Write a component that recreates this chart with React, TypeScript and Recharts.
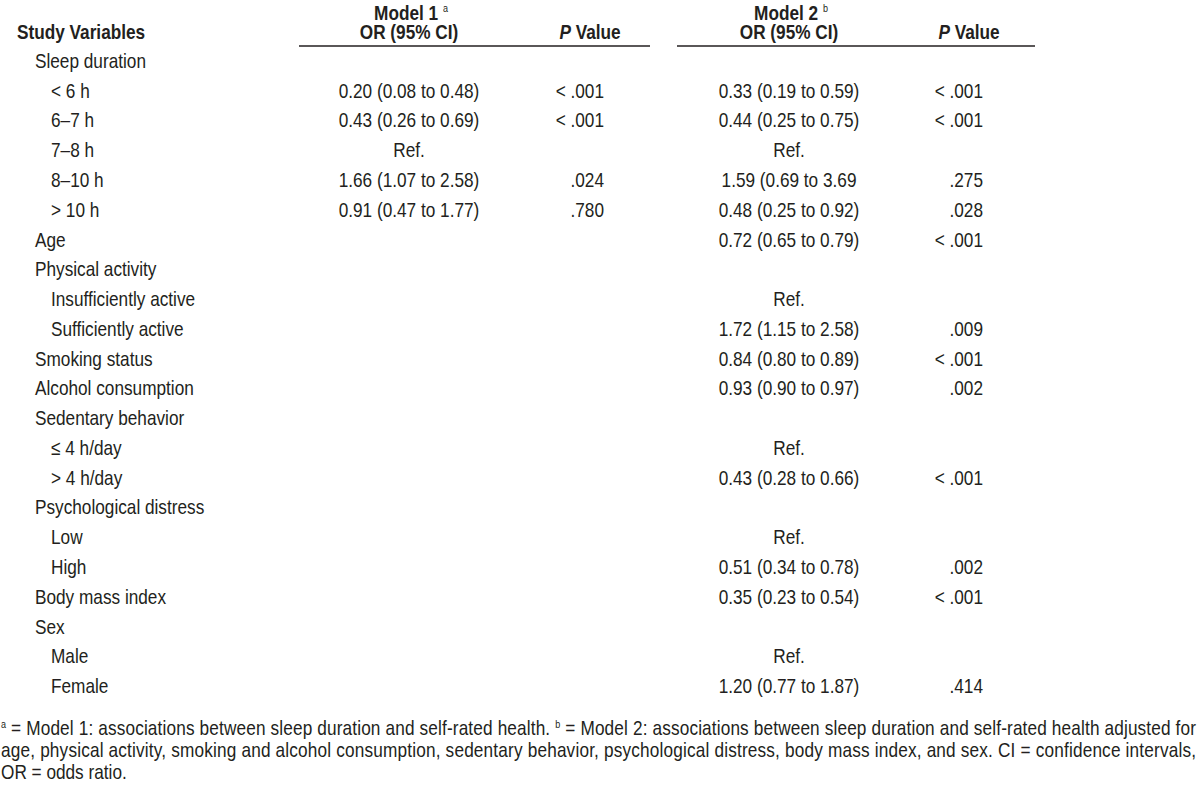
import { Scatter, ScatterChart, XAxis, YAxis } from "recharts";

const rowLabels = [
  "Sleep duration",
  "< 6 h",
  "6–7 h",
  "7–8 h",
  "8–10 h",
  "> 10 h",
  "Age",
  "Physical activity",
  "Insufficiently active",
  "Sufficiently active",
  "Smoking status",
  "Alcohol consumption",
  "Sedentary behavior",
  "≤ 4 h/day",
  "> 4 h/day",
  "Psychological distress",
  "Low",
  "High",
  "Body mass index",
  "Sex",
  "Male",
  "Female"
];

const rowLevels = [0, 1, 1, 1, 1, 1, 0, 0, 1, 1, 0, 0, 0, 1, 1, 0, 1, 1, 0, 0, 1, 1];

const model1OR = [
  "",
  "0.20 (0.08 to 0.48)",
  "0.43 (0.26 to 0.69)",
  "Ref.",
  "1.66 (1.07 to 2.58)",
  "0.91 (0.47 to 1.77)",
  "", "", "", "", "", "", "", "", "", "", "", "", "", "", "", ""
];

const model1P = ["", "< .001", "< .001", "", ".024", ".780", "", "", "", "", "", "", "", "", "", "", "", "", "", "", "", ""];

const model2OR = [
  "",
  "0.33 (0.19 to 0.59)",
  "0.44 (0.25 to 0.75)",
  "Ref.",
  "1.59 (0.69 to 3.69",
  "0.48 (0.25 to 0.92)",
  "0.72 (0.65 to 0.79)",
  "",
  "Ref.",
  "1.72 (1.15 to 2.58)",
  "0.84 (0.80 to 0.89)",
  "0.93 (0.90 to 0.97)",
  "",
  "Ref.",
  "0.43 (0.28 to 0.66)",
  "",
  "Ref.",
  "0.51 (0.34 to 0.78)",
  "0.35 (0.23 to 0.54)",
  "",
  "Ref.",
  "1.20 (0.77 to 1.87)"
];

const model2P = [
  "", "< .001", "< .001", "", ".275", ".028", "< .001", "", "", ".009", "< .001",
  ".002", "", "", "< .001", "", "", ".002", "< .001", "", "", ".414"
];

// no narrow font installed, so squeeze Liberation Sans to look like Arial Narrow
const FONT = "'Liberation Sans Narrow', 'Arial Narrow', 'Liberation Sans', Arial, sans-serif";
const INK = "#231f20";
const SIZE = 21;
const SX = 0.82;

type Cell = { x: number; row: number; text: string };

function column(values: string[], x: number): Cell[] {
  return values.map((text, row) => ({ x, row, text })).filter((c) => c.text !== "");
}

function NText({ x, y, anchor = "start", bold = false, children, ...rest }: any) {
  return (
    <text
      transform={`translate(${x},${y}) scale(${SX},1)`}
      textAnchor={anchor}
      fontSize={SIZE}
      fontWeight={bold ? "bold" : "normal"}
      fill={INK}
      fontFamily={FONT}
      {...rest}
    >
      {children}
    </text>
  );
}

function textShape(anchor: "start" | "middle" | "end") {
  return (props: any) => (
    <NText x={props.cx} y={props.cy} anchor={anchor}>
      {props.payload.text}
    </NText>
  );
}

export default function App() {
  const labels = rowLabels.map((text, row) => ({ x: rowLevels[row] ? 51 : 35, row, text }));

  return (
    <div style={{ width: 1200, height: 788 }}>
      <style>{"body{margin:0}"}</style>
      <ScatterChart
        width={1200}
        height={788}
        margin={{ top: 53, right: 0, bottom: 80, left: 0 }}
        style={{ fontFamily: FONT, background: "#fff" }}
      >
        <XAxis type="number" dataKey="x" domain={[0, 1200]} hide />
        <YAxis type="number" dataKey="row" domain={[-0.5, 21.5]} reversed hide />

        <Scatter data={labels} shape={textShape("start")} isAnimationActive={false} />
        <Scatter data={column(model1OR, 409)} shape={textShape("middle")} isAnimationActive={false} />
        <Scatter data={column(model1P, 604)} shape={textShape("end")} isAnimationActive={false} />
        <Scatter data={column(model2OR, 789)} shape={textShape("middle")} isAnimationActive={false} />
        <Scatter data={column(model2P, 983)} shape={textShape("end")} isAnimationActive={false} />

        {/* header */}
        <NText x={17} y={39} bold>Study Variables</NText>
        <NText x={411} y={20} anchor="middle" bold>
          Model 1{" "}
          <tspan fontSize={11} fontWeight="normal" baselineShift="70%">a</tspan>
        </NText>
        <NText x={409} y={39} anchor="middle" bold>OR (95% CI)</NText>
        <NText x={590} y={39} anchor="middle" bold>
          <tspan fontStyle="italic">P</tspan> Value
        </NText>
        <NText x={791} y={20} anchor="middle" bold>
          Model 2{" "}
          <tspan fontSize={11} fontWeight="normal" baselineShift="70%">b</tspan>
        </NText>
        <NText x={789} y={39} anchor="middle" bold>OR (95% CI)</NText>
        <NText x={969} y={39} anchor="middle" bold>
          <tspan fontStyle="italic">P</tspan> Value
        </NText>
        <line x1={299} x2={650} y1={46} y2={46} stroke={INK} strokeWidth={1.5} />
        <line x1={677} x2={1035} y1={46} y2={46} stroke={INK} strokeWidth={1.5} />

        {/* footnote */}
        <NText x={1} y={735} textLength={1195 / SX} lengthAdjust="spacing">
          <tspan fontSize={11} dy={-7}>a</tspan>
          <tspan dy={7}> = Model 1: associations between sleep duration and self-rated health. </tspan>
          <tspan fontSize={11} dy={-7}>b</tspan>
          <tspan dy={7}> = Model 2: associations between sleep duration and self-rated health adjusted for</tspan>
        </NText>
        <NText x={1} y={757} textLength={1195 / SX} lengthAdjust="spacing">
          age, physical activity, smoking and alcohol consumption, sedentary behavior, psychological distress, body mass index, and sex. CI = confidence intervals,
        </NText>
        <NText x={1} y={779}>OR = odds ratio.</NText>
      </ScatterChart>
    </div>
  );
}
